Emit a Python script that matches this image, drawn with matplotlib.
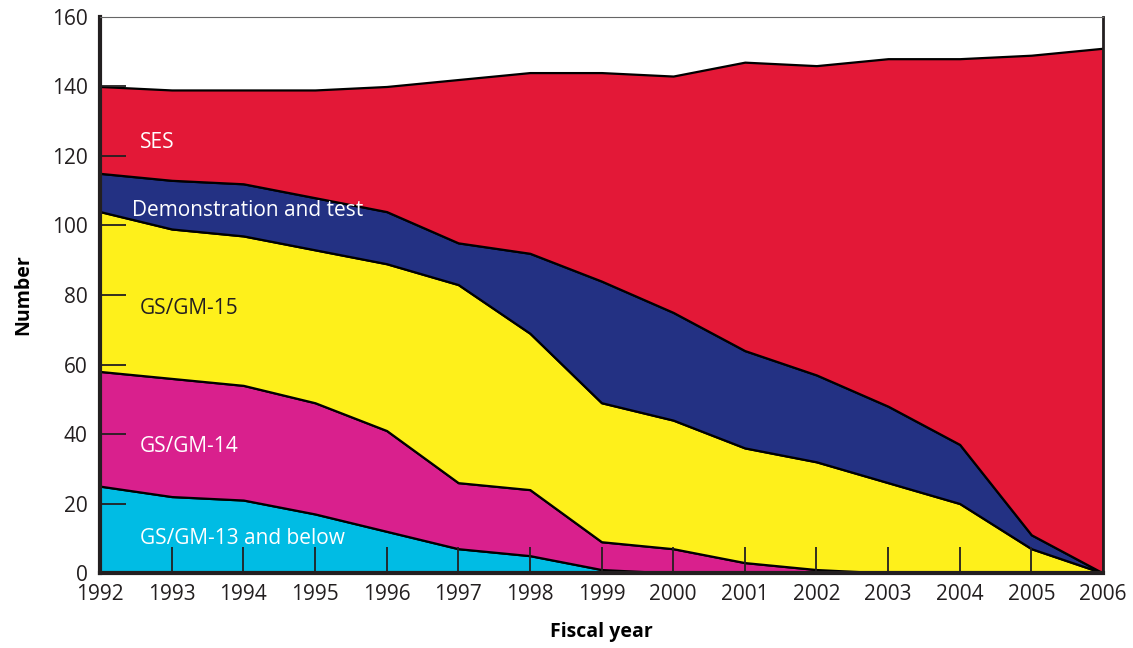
import numpy as np
import matplotlib
matplotlib.use("Agg")
import matplotlib.pyplot as plt

plt.rcParams['font.family'] = ['Open Sans', 'DejaVu Sans']

years = np.arange(1992, 2007)
# valeurs (empilées de bas en haut)
gs13 = [25, 22, 21, 17, 12, 7, 5, 1, 0, 0, 0, 0, 0, 0, 0]
gs14 = [33, 34, 33, 32, 29, 19, 19, 8, 7, 3, 1, 0, 0, 0, 0]
gs15 = [46, 43, 43, 44, 48, 57, 45, 40, 37, 33, 31, 26, 20, 7, 0]
demo = [11, 14, 15, 15, 15, 12, 23, 35, 31, 28, 25, 22, 17, 4, 0]
ses = [25, 26, 27, 31, 36, 47, 52, 60, 68, 83, 89, 100, 111, 138, 151]

noms = ["GS/GM-13 and below", "GS/GM-14", "GS/GM-15", "Demonstration and test", "SES"]
couleurs = ["#00bce4", "#d9208d", "#fef01b", "#233183", "#e31837"]

fig = plt.figure(figsize=(11.33, 6.48), dpi=100)
ax = fig.add_axes([0.0883, 0.1157, 0.8852, 0.8581])

ax.stackplot(years, gs13, gs14, gs15, demo, ses, colors=couleurs,
             edgecolor='black', linewidth=1.6, zorder=2)

ax.set_axisbelow(False)
ax.set_xlim(1992, 2006)
ax.set_ylim(0, 160)
ax.set_xticks(years)
ax.set_yticks(np.arange(0, 161, 20))
ax.tick_params(direction='in', length=19, width=1.3, color='#231f20',
               labelsize=15, labelcolor='#231f20')
ax.tick_params(axis='x', pad=8)
ax.tick_params(axis='y', pad=9)

# pas de trait de graduation aux extrémités
for tick in [ax.xaxis.get_major_ticks()[0], ax.xaxis.get_major_ticks()[-1],
             ax.yaxis.get_major_ticks()[0], ax.yaxis.get_major_ticks()[-1]]:
    tick.tick1line.set_visible(False)

for s in ['left', 'bottom']:
    ax.spines[s].set_linewidth(3)
    ax.spines[s].set_color('#231f20')
ax.spines['top'].set_linewidth(0.8)
ax.spines['top'].set_color('#666666')
ax.spines['right'].set_linewidth(2)
ax.spines['right'].set_color('#231f20')
for s in ax.spines.values():
    s.set_zorder(5)

ax.set_xlabel("Fiscal year", fontsize=14, fontweight='bold', labelpad=12)
ax.set_ylabel("Number", fontsize=14, fontweight='bold', labelpad=13)

# étiquettes des zones
ax.text(1992.56, 124, "SES", color='white', fontsize=15, va='center', zorder=4)
ax.text(1992.44, 104.3, "Demonstration and test", color='white', fontsize=15, va='center', zorder=4)
ax.text(1992.56, 76, "GS/GM-15", color='#231f20', fontsize=15, va='center', zorder=4)
ax.text(1992.56, 36.4, "GS/GM-14", color='white', fontsize=15, va='center', zorder=4)
ax.text(1992.56, 9.9, "GS/GM-13 and below", color='white', fontsize=15, va='center', zorder=4)

fig.savefig("out.png", dpi=100)
